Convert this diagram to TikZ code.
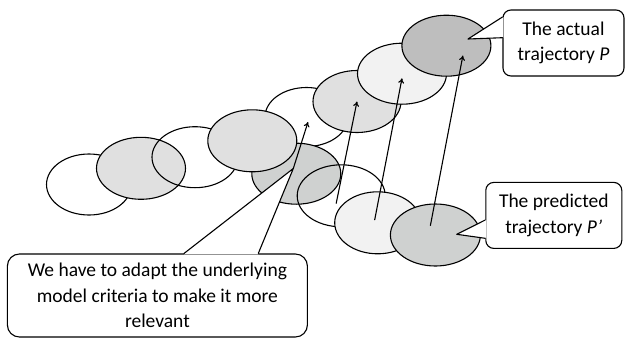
\documentclass[tikz,border=0pt]{standalone}
\usepackage{fontspec}
\setmainfont{Carlito}
\usetikzlibrary{shapes.geometric,arrows.meta}
\definecolor{lightfill}{RGB}{224,224,224}
\definecolor{palefill}{RGB}{242,242,242}
\definecolor{darkfill}{RGB}{190,190,190}
\definecolor{midfill}{RGB}{207,209,208}

\begin{document}
\begin{tikzpicture}[x=1pt,y=-1pt,line cap=round,line join=round,line width=1.1pt,>={To[length=5pt,width=6pt]},
  blob/.style={ellipse,draw,inner sep=0pt,minimum width=88,minimum height=61},
  callbox/.style={rectangle,draw,fill=white,rounded corners=8pt,align=center,font=\fontsize{19.5}{25.5}\selectfont}]
\useasboundingbox (0,0) rectangle (625,341);
% actual trajectory
\node[blob,minimum width=85] (act1) at (89,184.5) {};
\node[blob,fill=lightfill,minimum width=89,minimum height=62] (act2) at (141,168.3) {};
\node[blob,minimum width=86] (act3) at (195,157.2) {};
\node[blob,minimum width=83,minimum height=59] (act5) at (306.5,117) {};
\node[blob,fill=midfill,minimum width=89] (pre1) at (296.3,173.7) {};
\node[blob,fill=lightfill,minimum width=89,minimum height=62] (act4) at (252.3,140.8) {};
\node[blob,fill=lightfill,minimum height=62] (act6) at (357,101.5) {};
\node[blob,fill=palefill,minimum width=89] (act7) at (402,73.7) {};
\node[blob,fill=darkfill,minimum width=89] (act8) at (446.4,45.7) {};
% predicted trajectory
\node[blob,minimum height=62] (pre2) at (341.2,195.8) {};
\node[blob,fill=palefill,minimum width=86,minimum height=62] (pre3) at (377.7,222.8) {};
\node[blob,fill=midfill,minimum width=90,minimum height=62] (pre4) at (435.4,235) {};
% arrows
\draw[->] ([shift={(-5,7.5)}]pre2.center) -- (act6.center);
\draw[->] ([shift={(-3,-3)}]pre3.center) -- ([shift={(0,4.6)}]act7.center);
\draw[->] ([shift={(-5,-9.5)}]pre4.center) -- ([shift={(16.5,9.8)}]act8.center);
% callouts
\node[callbox,minimum width=121,minimum height=66] (actual) at (563.5,43) {The actual\\trajectory \textit{P}};
\coordinate (actTip) at (468,39);
\coordinate (actB1) at (actual.west |- 0,17);
\coordinate (actB2) at (actual.west |- 0,37.7);
\fill[white] (actB1) -- (actTip) -- (actB2) -- ([xshift=1pt]actB2) -- ([xshift=1pt]actB1) -- cycle;
\draw (actB1) -- (actTip) -- (actB2);

\node[callbox,minimum width=136,minimum height=66] (predicted) at (553.8,215.4) {The predicted\\trajectory \textit{P’}};
\coordinate (preTip) at (456.7,234.3);
\coordinate (preB1) at (predicted.west |- 0,220);
\coordinate (preB2) at (predicted.west |- 0,238.3);
\fill[white] (preB1) -- (preTip) -- (preB2) -- ([xshift=1pt]preB2) -- ([xshift=1pt]preB1) -- cycle;
\draw (preB1) -- (preTip) -- (preB2);

\node[callbox,rounded corners=12pt,minimum width=300,minimum height=83] (adapt) at (157.4,295.5) {We have to adapt the underlying\\model criteria to make it more\\relevant};
\coordinate (adaptTip) at (293.3,168.5);
\coordinate (adaptB1) at (adapt.north -| 184,0);
\coordinate (adaptB2) at (adapt.north -| 258.3,0);
\fill[white] (adaptB1) -- (adaptTip) -- (adaptB2) -- ([yshift=-1pt]adaptB2) -- ([yshift=-1pt]adaptB1) -- cycle;
\draw (adaptB1) -- (adaptTip) -- (adaptB2);
\draw[->] (adaptTip) -- ([shift={(1.5,5)}]act5.center);
\end{tikzpicture}
\end{document}
